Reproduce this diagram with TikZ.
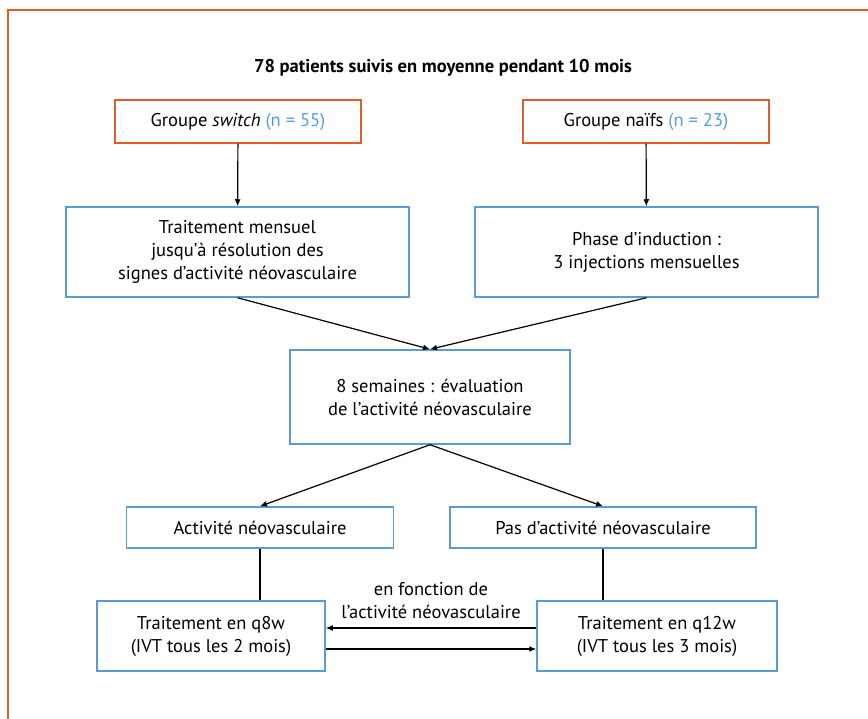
\documentclass[tikz,border=0pt]{standalone}
\usepackage{fontspec}
\setmainfont{PT Sans}
\usepackage{xcolor}
\usetikzlibrary{arrows.meta}
\definecolor{frameorange}{RGB}{226,92,42}
\definecolor{boxblue}{RGB}{91,155,213}
\definecolor{countblue}{RGB}{84,156,220}
\newcommand{\flowfont}{\fontsize{18.5}{23}\selectfont}
\tikzstyle{box}=[rectangle, draw, line width=1.5pt, align=center, inner sep=0pt, font=\flowfont]
\tikzstyle{group}=[box, draw=frameorange, minimum width=246, minimum height=43]
\tikzstyle{stage}=[box, draw=boxblue]
\tikzstyle{arrow}=[-{Latex[length=7pt,width=6pt]}, line width=1.2pt]

\begin{document}
\begin{tikzpicture}[x=1pt,y=-1pt]
  \useasboundingbox (0,0) rectangle (868,719);
  \draw[frameorange, line width=2.5pt] (870,10) -- (8,10) -- (8,721);

  \draw (443,68) node[font=\flowfont\bfseries] (title) {78 patients suivis en moyenne pendant 10 mois};

  \draw (238,121.5) node[group] (switch) {Groupe \textit{switch} \textcolor{countblue}{(n = 55)}};
  \draw (646,121.5) node[group] (naifs) {Groupe naïfs \textcolor{countblue}{(n = 23)}};

  \draw (237.5,252) node[stage, minimum width=343, minimum height=90] (mensuel) {Traitement mensuel\\jusqu'à résolution des\\signes d'activité néovasculaire};
  \draw (646.5,252) node[stage, minimum width=343, minimum height=90] (induction) {Phase d'induction :\\3 injections mensuelles};

  \draw (430,397) node[stage, minimum width=280, minimum height=94] (eval) {8 semaines : évaluation\\de l'activité néovasculaire};

  \draw (260,527.5) node[stage, minimum width=267, minimum height=41] (actif) {Activité néovasculaire};
  \draw (603,527.5) node[stage, minimum width=306, minimum height=41] (inactif) {Pas d'activité néovasculaire};

  \draw (211,636) node[stage, minimum width=228, minimum height=70] (q8w) {Traitement en q8w\\(IVT tous les 2 mois)};
  \draw (657,636) node[stage, minimum width=240, minimum height=70] (q12w) {Traitement en q12w\\(IVT tous les 3 mois)};

  \draw[arrow] (switch) -- (mensuel);
  \draw[arrow] (naifs) -- (induction);
  \draw[arrow] (mensuel.south) -- (eval.north);
  \draw[arrow] (induction.south) -- (eval.north);
  \draw[arrow] (eval.south) -- (actif.north);
  \draw[arrow] (eval.south) -- (inactif.north);

  \draw[line width=1.2pt] (actif.south) -- (actif.south |- q8w.north);
  \draw[line width=1.2pt] (inactif.south) -- (inactif.south |- q12w.north);

  %% switching between intervals
  \draw[arrow] ([yshift=8]q12w.west) -- node[midway, above, inner sep=9pt, font=\flowfont, align=center] (critere) {en fonction de\\l'activité néovasculaire} ([yshift=8]q8w.east);
  \draw[arrow] ([yshift=-13]q8w.east) -- ([yshift=-13]q12w.west);
\end{tikzpicture}
\end{document}
